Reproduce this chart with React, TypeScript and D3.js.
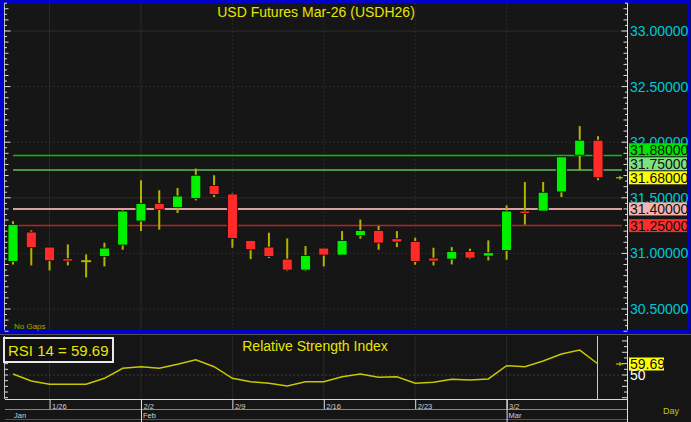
import React from 'react';
import * as d3 from 'd3';

const dates = ['1/22','1/23','1/26','1/27','1/28','1/29','1/30','2/2','2/3','2/4','2/5','2/6','2/9','2/10','2/11','2/12','2/13','2/16','2/17','2/18','2/19','2/20','2/23','2/24','2/25','2/26','2/27','3/2','3/3','3/4','3/5','3/6','3/9'];
const opens = [30.928,31.192,31.057,30.952,30.93,30.973,31.075,31.291,31.45,31.412,31.493,31.61,31.534,31.117,31.057,30.949,30.85,31.048,30.985,31.159,31.207,31.132,31.108,30.958,30.949,31.018,30.976,31.027,31.381,31.381,31.553,31.883,32.018];
const highs = [31.288,31.207,31.057,31.081,30.991,31.096,31.394,31.658,31.568,31.588,31.763,31.703,31.543,31.117,31.186,31.135,31.066,31.05,31.201,31.304,31.246,31.201,31.141,31.051,31.057,31.042,31.117,31.432,31.642,31.642,31.868,32.144,32.054];
const lows = [30.9,30.892,30.847,30.892,30.784,30.883,31.033,31.201,31.214,31.363,31.477,31.507,31.051,30.949,30.958,30.841,30.841,30.883,30.985,31.132,31.033,31.057,30.898,30.892,30.901,30.949,30.937,30.943,31.259,31.381,31.507,31.748,31.658];
const closes = [31.261,31.051,30.934,30.931,30.93,31.048,31.381,31.45,31.396,31.516,31.703,31.529,31.135,31.033,30.973,30.85,30.982,30.985,31.117,31.207,31.093,31.102,30.928,30.931,31.018,30.958,31.006,31.381,31.36,31.55,31.868,32.018,31.68];
const rsiValues = [50.9,44.7,41.8,41.8,41.8,47.1,55.9,57.3,55.9,59.4,63.5,57.3,47.1,44.1,42.7,40.3,44.1,44.1,48.5,50.9,48.0,48.5,42.7,43.6,46.2,45.6,46.5,58.2,57.3,62.3,68.5,72.0,59.69];

const priceTicks = [30.5, 31.0, 31.5, 32.0, 32.5, 33.0];
const solidPriceGrid = [33.0, 31.5];
const levelValues = [31.88, 31.75, 31.68, 31.40, 31.25];
const levelLabels = ['31.88000', '31.75000', '31.68000', '31.40000', '31.25000'];
const weekTicks = ['1/26', '2/2', '2/9', '2/16', '2/23', '3/2'];
const monthLabels = ['Jan', 'Feb', 'Mar'];
const monthStarts = ['1/22', '2/2', '3/2'];
const rsiTicks = [30, 35, 40, 45, 50, 55, 60, 65, 70, 75, 80];
const lastRsi = 59.69;
const titleText = 'USD Futures Mar-26 (USDH26)';
const rsiTitle = 'Relative Strength Index';

const FONT = '"Liberation Sans", Arial, sans-serif';

export default function App() {
  const x = d3.scaleLinear().domain([0, dates.length - 1]).range([13, 598]);
  const y = d3.scaleLinear().domain([30.5, 33.0]).range([309, 31]);
  const ry = d3.scaleLinear().domain([50, 60]).range([375, 363.65]);
  const idx = (d: string) => dates.indexOf(d);

  const levelStyles = [
    { line: '#00c800', bg: '#00e600', w: 1.5 },
    { line: '#5cbf5c', bg: '#7fe07f', w: 1.5 },
    { line: null, bg: '#ffff00', w: 0 },
    { line: '#d8a0a0', bg: '#f4b4b0', w: 2 },
    { line: '#c02020', bg: '#ff2c2c', w: 1.5 },
  ];

  // stacked label boxes (bottom-up)
  const boxH = 13;
  const order = levelValues.map((v, i) => i).sort((a, b) => y(levelValues[b]) - y(levelValues[a]));
  const boxTop: number[] = [];
  let prevTop = Infinity;
  order.forEach(i => {
    let t = y(levelValues[i]) - boxH / 2;
    if (t + boxH > prevTop - 1) t = prevTop - 1 - boxH;
    boxTop[i] = t;
    prevTop = t;
  });

  const minorTicks = d3.range(Math.round(30.3 / 0.05), Math.round(33.25 / 0.05) + 1).map(k => k * 0.05);
  const tickLen = (v: number) => {
    const k = Math.round(v / 0.05);
    if (k % 10 === 0) return 6;
    if (k % 2 === 0) return 4;
    return 2.5;
  };

  const rsiLine = d3.line<number>().x((_, i) => x(i)).y(d => ry(d));
  const bw = 10;

  return (
    <svg width={691} height={422} style={{ position: 'fixed', left: 0, top: 0, display: 'block' }} fontFamily={FONT}>
      <rect x={0} y={0} width={691} height={422} fill="#151515" />
      {/* main panel */}
      <rect x={1.5} y={1.5} width={687.5} height={330} fill="#161616" stroke="#0000c8" strokeWidth={3} />
      {/* vertical gridlines main */}
      {weekTicks.map((d, i) => (
        <line key={'vg' + d} x1={x(idx(d))} x2={x(idx(d))} y1={3} y2={330} stroke="#2a2a2a" strokeWidth={1}
          strokeDasharray={d === '2/2' || d === '1/26' ? undefined : '2,2'} />
      ))}
      {priceTicks.map(v => (
        <line key={'hg' + v} x1={5} x2={627} y1={y(v)} y2={y(v)} stroke="#2c2c2c" strokeWidth={1}
          strokeDasharray={solidPriceGrid.includes(v) ? undefined : '2,2'} />
      ))}
      {/* left axis */}
      <line x1={4.5} x2={4.5} y1={3} y2={330} stroke="#bbbbbb" strokeWidth={1} />
      {minorTicks.map(v => (
        <line key={'lt' + v} x1={4.5} x2={4.5 + tickLen(v)} y1={y(v)} y2={y(v)} stroke="#dddddd" strokeWidth={1} />
      ))}
      {/* right axis */}
      <line x1={627.5} x2={627.5} y1={3} y2={330} stroke="#e0e0e0" strokeWidth={1} />
      {minorTicks.map(v => (
        <line key={'rt' + v} x1={627.5 - tickLen(v)} x2={627.5} y1={y(v)} y2={y(v)} stroke="#dddddd" strokeWidth={1} />
      ))}
      {priceTicks.map(v => (
        <text key={'pl' + v} x={630} y={y(v) + 5} fill="#00c8d4" fontSize={14}>{v.toFixed(5)}</text>
      ))}
      {/* level lines */}
      {levelValues.map((v, i) => levelStyles[i].line ? (
        <line key={'lv' + v} x1={13} x2={622} y1={y(v)} y2={y(v)} stroke={levelStyles[i].line!} strokeWidth={levelStyles[i].w} />
      ) : null)}
      {/* candles */}
      {dates.map((d, i) => {
        const o = opens[i], c = closes[i], h = highs[i], l = lows[i];
        const cx = x(i);
        const top = y(Math.max(o, c)), bot = y(Math.min(o, c));
        const doji = Math.abs(o - c) < 0.003;
        return (
          <g key={'c' + d}>
            <line x1={cx} x2={cx} y1={y(h)} y2={y(l)} stroke="#b4b400" strokeWidth={2} />
            {doji ? (
              <line x1={cx - bw / 2} x2={cx + bw / 2} y1={top} y2={top} stroke="#b4b400" strokeWidth={2} />
            ) : (
              <rect x={cx - bw / 2} y={top} width={bw} height={Math.max(bot - top, 2)}
                fill={c > o ? '#00f000' : '#ff2a2a'} stroke="#0a0a0a" strokeWidth={0.8} />
            )}
          </g>
        );
      })}
      {/* last price arrow */}
      <g stroke="#d8d800" strokeWidth={1}>
        <line x1={616} x2={623} y1={y(closes[closes.length - 1])} y2={y(closes[closes.length - 1])} />
        <line x1={620} x2={620} y1={y(closes[closes.length - 1]) - 2} y2={y(closes[closes.length - 1]) + 2} />
      </g>
      {/* level label boxes */}
      {levelValues.map((v, i) => (
        <g key={'lb' + v}>
          <rect x={629} y={boxTop[i]} width={58} height={boxH} fill={levelStyles[i].bg} />
          <text x={630} y={boxTop[i] + boxH / 2 + 5} fill="#101010" fontSize={14}>{levelLabels[i]}</text>
        </g>
      ))}
      <text x={316} y={17} textAnchor="middle" fill="#e6e600" fontSize={14}>{titleText}</text>
      <text x={14} y={329} fill="#a8a800" fontSize={8}>No Gaps</text>

      {/* RSI panel */}
      <line x1={0} x2={691} y1={334.5} y2={334.5} stroke="#555555" strokeWidth={1} />
      {weekTicks.map(d => (
        <line key={'rvg' + d} x1={x(idx(d))} x2={x(idx(d))} y1={336} y2={399} stroke="#2a2a2a" strokeWidth={1} />
      ))}
      <line x1={5} x2={627} y1={ry(50)} y2={ry(50)} stroke="#3a3a3a" strokeWidth={1} strokeDasharray="2,2" />
      <line x1={4.5} x2={4.5} y1={336} y2={399} stroke="#bbbbbb" strokeWidth={1} />
      {rsiTicks.map(v => (
        <line key={'rlt' + v} x1={4.5} x2={8} y1={ry(v)} y2={ry(v)} stroke="#dddddd" strokeWidth={1} />
      ))}
      <line x1={627.5} x2={627.5} y1={336} y2={422} stroke="#e0e0e0" strokeWidth={1} />
      {rsiTicks.map(v => (
        <line key={'rrt' + v} x1={v % 10 === 0 ? 622 : 624} x2={627.5} y1={ry(v)} y2={ry(v)} stroke="#dddddd" strokeWidth={1} />
      ))}
      <line x1={597.5} x2={597.5} y1={336} y2={399} stroke="#c8c8c8" strokeWidth={1} />
      <path d={rsiLine(rsiValues) || ''} fill="none" stroke="#c8c800" strokeWidth={1.5} />
      <rect x={4} y={338} width={109} height={24} fill="#111111" stroke="#e8e8e8" strokeWidth={2} />
      <text x={8} y={355.5} fill="#e6e600" fontSize={15}>{`RSI 14 = ${lastRsi.toFixed(2)}`}</text>
      <text x={315} y={351} textAnchor="middle" fill="#e6e600" fontSize={14}>{rsiTitle}</text>
      <g stroke="#d8d800" strokeWidth={1}>
        <line x1={616} x2={623} y1={ry(lastRsi)} y2={ry(lastRsi)} />
        <line x1={620} x2={620} y1={ry(lastRsi) - 2} y2={ry(lastRsi) + 2} />
      </g>
      <text x={630} y={ry(50) + 5} fill="#ffffff" fontSize={14}>50</text>
      <rect x={629} y={ry(lastRsi) - 6.5} width={35} height={13} fill="#ffff00" />
      <text x={630} y={ry(lastRsi) + 5} fill="#101010" fontSize={14}>{lastRsi.toFixed(2)}</text>

      {/* date axis */}
      <line x1={5} x2={627} y1={399.5} y2={399.5} stroke="#d8d8d8" strokeWidth={1} />
      <line x1={5} x2={627} y1={409.5} y2={409.5} stroke="#888888" strokeWidth={1} />
      <line x1={5} x2={627} y1={419.5} y2={419.5} stroke="#555555" strokeWidth={1} />
      {weekTicks.map(d => (
        <g key={'wt' + d}>
          <line x1={x(idx(d)) + 0.5} x2={x(idx(d)) + 0.5} y1={400} y2={409} stroke="#e0e0e0" strokeWidth={1} />
          <text x={x(idx(d)) + 2.5} y={408.5} fill="#cfcfcf" fontSize={7.5}>{d}</text>
        </g>
      ))}
      {monthStarts.map((d, i) => (
        <g key={'ms' + d}>
          {i > 0 ? <line x1={x(idx(d)) + 0.5} x2={x(idx(d)) + 0.5} y1={400} y2={422} stroke="#e0e0e0" strokeWidth={1} /> : null}
          <text x={x(idx(d)) + (i > 0 ? 2 : 1)} y={418} fill={i === 2 ? '#c8d4ff' : '#cfcfcf'} fontSize={7.5}>{monthLabels[i]}</text>
        </g>
      ))}
      <text x={663} y={414} fill="#c8c800" fontSize={9}>Day</text>
    </svg>
  );
}
